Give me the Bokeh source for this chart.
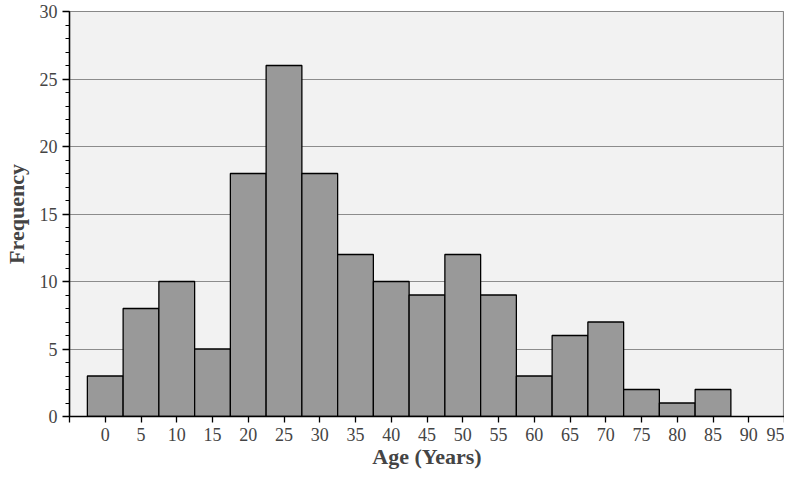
from bokeh.plotting import figure
from bokeh.models import FixedTicker, ColumnDataSource, Range1d
from bokeh.embed import file_html
from bokeh.resources import INLINE

ages = [0, 5, 10, 15, 20, 25, 30, 35, 40, 45, 50, 55, 60, 65, 70, 75, 80, 85]
freq = [3, 8, 10, 5, 18, 26, 18, 12, 10, 9, 12, 9, 3, 6, 7, 2, 1, 2]
x_ticks = list(range(-5, 100, 5))
y_ticks = [0, 5, 10, 15, 20, 25, 30]

src = ColumnDataSource(dict(x=ages, top=freq))

p = figure(width=784, height=471, output_backend="svg", toolbar_location=None,
           x_range=Range1d(-5, 95), y_range=Range1d(0, 30),
           min_border_left=66, min_border_right=0, min_border_top=11, min_border_bottom=40,
           background_fill_color="#f2f2f2", border_fill_color="white")

p.vbar(x="x", top="top", bottom=0, width=5, source=src,
       fill_color="#999999", line_color="black", line_width=1.3)

p.outline_line_color = "#888888"
p.outline_line_width = 1.2

p.xgrid.visible = False
p.ygrid.grid_line_color = "#8c8c8c"
p.ygrid.grid_line_width = 1.2
p.ygrid.ticker = FixedTicker(ticks=y_ticks)

xa = p.xaxis[0]
xa.ticker = FixedTicker(ticks=x_ticks)
xa.major_label_overrides = {-5: ""}
xa.axis_label = "Age (Years)"
xa.axis_label_text_font = "Liberation Serif"
xa.axis_label_text_font_style = "bold"
xa.axis_label_text_font_size = "22px"
xa.axis_label_standoff = 0
xa.major_label_text_font = "Liberation Serif"
xa.major_label_text_font_size = "18px"
xa.major_label_standoff = 5
xa.axis_line_color = "black"
xa.axis_line_width = 1.5
xa.major_tick_in = 0
xa.major_tick_out = 6
xa.major_tick_line_color = "black"
xa.major_tick_line_width = 1.3
xa.minor_tick_line_color = None

ya = p.yaxis[0]
ya.ticker = FixedTicker(ticks=y_ticks, minor_ticks=list(range(0, 31)))
ya.axis_label = "Frequency"
ya.axis_label_text_font = "Liberation Serif"
ya.axis_label_text_font_style = "bold"
ya.axis_label_text_font_size = "22px"
ya.axis_label_standoff = 8
ya.major_label_text_font = "Liberation Serif"
ya.major_label_text_font_size = "18px"
ya.major_label_standoff = 5
ya.axis_line_color = "black"
ya.axis_line_width = 1.5
ya.major_tick_in = 0
ya.major_tick_out = 7
ya.major_tick_line_color = "black"
ya.major_tick_line_width = 1.3
ya.minor_tick_in = 0
ya.minor_tick_out = 4
ya.minor_tick_line_color = "black"
ya.minor_tick_line_width = 1.2

open("out.html", "w").write(file_html(p, INLINE))
